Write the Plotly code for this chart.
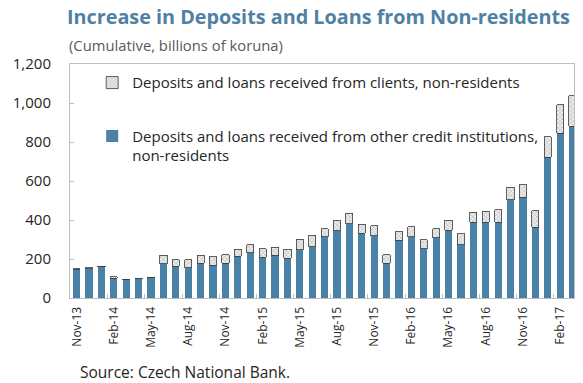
import plotly.graph_objects as go

months = ["Nov-13", "Dec-13", "Jan-14", "Feb-14", "Mar-14", "Apr-14", "May-14", "Jun-14",
          "Jul-14", "Aug-14", "Sep-14", "Oct-14", "Nov-14", "Dec-14", "Jan-15", "Feb-15",
          "Mar-15", "Apr-15", "May-15", "Jun-15", "Jul-15", "Aug-15", "Sep-15", "Oct-15",
          "Nov-15", "Dec-15", "Jan-16", "Feb-16", "Mar-16", "Apr-16", "May-16", "Jun-16",
          "Jul-16", "Aug-16", "Sep-16", "Oct-16", "Nov-16", "Dec-16", "Jan-17", "Feb-17",
          "Mar-17"]

credit_institutions = [147, 151, 160, 102, 93, 100, 104, 176, 162, 155, 179, 167, 179, 213,
                       232, 208, 220, 205, 248, 263, 313, 345, 381, 333, 319, 177, 295, 314,
                       253, 308, 347, 273, 388, 388, 388, 504, 516, 362, 723, 846, 880]

clients = [2, 4, 2, 8, 2, 2, 3, 42, 34, 40, 39, 45, 43, 36, 41, 45, 41, 46, 54, 58, 41, 50,
           53, 46, 52, 45, 45, 52, 46, 46, 51, 57, 53, 56, 65, 65, 65, 86, 103, 145, 157]

y_ticks = [0, 200, 400, 600, 800, 1000, 1200]

name_ci = "Deposits and loans received from other credit institutions,<br>non-residents"
name_cl = "Deposits and loans received from clients, non-residents"

BLUE = "#4A81A6"
GREY = "#BFBFBF"
FONT = "Open Sans"

x = list(range(len(months)))
label_idx = x[::3]

fig = go.Figure()
fig.add_trace(go.Bar(
    x=x, y=credit_institutions, name=name_ci, legendgroup="ci", legendrank=2,
    marker=dict(color=BLUE, line=dict(width=0)), width=0.58,
))
fig.add_trace(go.Bar(
    x=x, y=clients, name=name_cl, legendgroup="cl", legendrank=1,
    marker=dict(color="#E6E6E6", line=dict(color="#3A3A3A", width=0.8),
                pattern=dict(shape="x", fgcolor="#8C8C8C", bgcolor="#EDEDED", size=3, solidity=0.4)),
    width=0.58,
))

fig.update_layout(
    barmode="stack",
    width=583, height=383,
    margin=dict(l=70, r=9, t=64, b=85, autoexpand=False),
    paper_bgcolor="white", plot_bgcolor="white",
    font=dict(family=FONT, color="#262626"),
    showlegend=True,
    legend=dict(
        x=0.044, y=0.99, xanchor="left", yanchor="top",
        bgcolor="rgba(0,0,0,0)", font=dict(size=15, color="#262626", family=FONT),
        traceorder="grouped", tracegroupgap=31, valign="top",
        itemwidth=30,
    ),
    title=dict(
        text="<b>Increase in Deposits and Loans from Non-residents</b>",
        x=67 / 583, xanchor="left", y=1 - 17 / 383, yanchor="middle",
        xref="container", yref="container", pad=dict(l=0, r=0, t=0, b=0),
        font=dict(size=19.8, color="#4F81A5", family=FONT),
    ),
    annotations=[
        dict(text="(Cumulative, billions of koruna)", xref="paper", yref="paper",
             x=(67 - 70) / 504, y=1 + (64 - 45) / 234, xanchor="left", yanchor="middle",
             showarrow=False, font=dict(size=14.8, color="#595959", family=FONT)),
        dict(text="Source: Czech National Bank.", xref="paper", yref="paper",
             x=(78 - 70) / 504, y=-(372 - 298) / 234, xanchor="left", yanchor="middle",
             showarrow=False, font=dict(size=15.5, color="#262626", family=FONT)),
    ],
)

fig.update_xaxes(
    range=[-0.54, 40.12], automargin=False,
    tickmode="array", tickvals=label_idx, ticktext=[months[i] for i in label_idx],
    tickangle=-90, ticks="", tickfont=dict(size=12, color="#262626"), ticklabelstandoff=3,
    showline=True, linecolor=GREY, linewidth=1, mirror=True,
    showgrid=False, zeroline=False,
    minor=dict(tickvals=[i - 0.5 for i in label_idx if i > 0], ticks="inside",
               ticklen=4, tickcolor=GREY, tickwidth=1, showgrid=False),
)
fig.update_yaxes(
    range=[0, 1200], automargin=False, tickmode="array", tickvals=y_ticks, tickformat=",",
    ticks="inside", ticklen=4, tickcolor=GREY, tickwidth=1,
    tickfont=dict(size=15, color="#262626"), ticklabelstandoff=15,
    showline=True, linecolor=GREY, linewidth=1, mirror=True,
    showgrid=False, zeroline=False,
)

fig.write_html(
    "out.html",
    config={"displayModeBar": False},
    post_script="document.documentElement.style.margin='0';document.body.style.margin='0';"
                "document.body.style.padding='0';document.body.style.overflow='hidden';",
)
